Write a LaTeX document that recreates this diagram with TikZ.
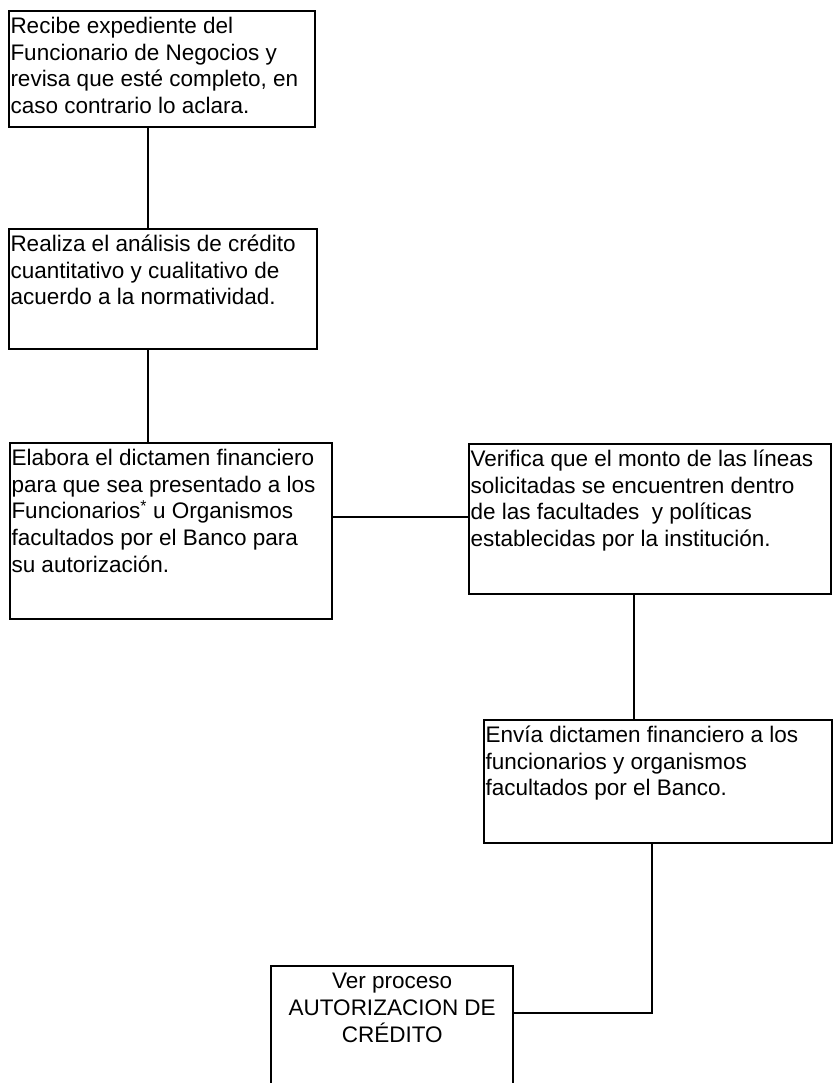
\documentclass[tikz,border=0pt]{standalone}
\usepackage{fontspec}
\setmainfont{Liberation Sans}
\begin{document}
\begin{tikzpicture}[x=1pt,y=-1pt]
\tikzset{
  card/.style={draw, line width=2pt, inner xsep=1.5pt, inner ysep=2pt, anchor=north west},
  opencard/.style={inner xsep=1.5pt, inner ysep=2pt, anchor=north west},
  link/.style={line width=2pt},
}
\newcommand{\cardtext}[3]{\parbox[t][#2][t]{#1}{\fontsize{22.5pt}{26.7pt}\selectfont\raggedright\rule{0pt}{20.5pt}#3}}
\newcommand{\cardcentre}[3]{\parbox[t][#2][t]{#1}{\fontsize{22.5pt}{26.7pt}\selectfont\centering\rule{0pt}{20.5pt}#3}}
\useasboundingbox (0,0) rectangle (832,1083);

% process steps
\node[card] (recibe) at (8,10) {\cardtext{303pt}{112pt}{Recibe expediente del\\Funcionario de Negocios y\\revisa que esté completo, en\\caso contrario lo aclara.}};
\node[card] (analiza) at (8,228) {\cardtext{305pt}{116pt}{Realiza el análisis de crédito\\cuantitativo y cualitativo de\\acuerdo a la normatividad.}};
\node[card] (elabora) at (9,442) {\cardtext{319pt}{172pt}{Elabora el dictamen financiero\\para que sea presentado a los\\Funcionarios\textsuperscript{*} u Organismos\\facultados por el Banco para\\su autorización.}};
\node[card] (verifica) at (468,443) {\cardtext{359pt}{146pt}{Verifica que el monto de las líneas\\solicitadas se encuentren dentro\\de las facultades\ \ y políticas\\establecidas por la institución.}};
\node[card] (envia) at (483,719) {\cardtext{345pt}{119pt}{Envía dictamen financiero a los\\funcionarios y organismos\\facultados por el Banco.}};
\node[opencard] (ver) at (271,966) {\cardcentre{239pt}{140pt}{Ver proceso\\AUTORIZACION DE\\CRÉDITO}};
\draw[link] (ver.south west) -- (ver.north west) -- (ver.north east) -- (ver.south east);

% connectors
\draw[link] ([xshift=140pt]recibe.south west) -- ([xshift=140pt]recibe.south west |- analiza.north);
\draw[link] ([xshift=140pt]analiza.south west) -- ([xshift=140pt]analiza.south west |- elabora.north);
\draw[link] ([yshift=-75pt]elabora.north east) -- ([yshift=-75pt]elabora.north east -| verifica.west);
\draw[link] ([xshift=166pt]verifica.south west) -- ([xshift=166pt]verifica.south west |- envia.north);
\draw[link] ([xshift=169pt]envia.south west) |- ([yshift=-47pt]ver.north east);
\end{tikzpicture}
\end{document}
